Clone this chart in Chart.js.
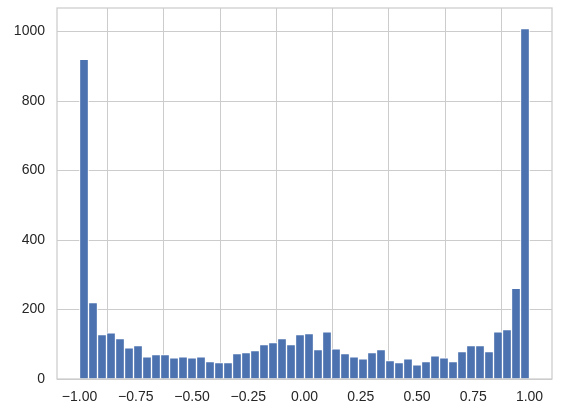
<!DOCTYPE html>
<html>
<head>
<meta charset="utf-8">
<script src="https://cdn.jsdelivr.net/npm/chart.js@4/dist/chart.umd.min.js"></script>
<style>
  html, body { margin: 0; padding: 0; background: #ffffff; }
  #wrap { width: 563px; height: 416px; position: relative; }
</style>
</head>
<body>
<div id="wrap"><canvas id="c" width="563" height="416"></canvas></div>
<script>
// Histogram bin centres (bin width 0.04, from -1 to 1)
const binCenters = [
  -0.98, -0.94, -0.90, -0.86, -0.82, -0.78, -0.74, -0.70, -0.66, -0.62,
  -0.58, -0.54, -0.50, -0.46, -0.42, -0.38, -0.34, -0.30, -0.26, -0.22,
  -0.18, -0.14, -0.10, -0.06, -0.02, 0.02, 0.06, 0.10, 0.14, 0.18,
  0.22, 0.26, 0.30, 0.34, 0.38, 0.42, 0.46, 0.50, 0.54, 0.58,
  0.62, 0.66, 0.70, 0.74, 0.78, 0.82, 0.86, 0.90, 0.94, 0.98
];
// Counts per bin
const counts = [
  920, 220, 128, 133, 116, 90, 96, 64, 70, 70,
  61, 64, 61, 64, 50, 47, 47, 73, 76, 82,
  99, 105, 116, 99, 128, 131, 85, 136, 87, 73,
  64, 58, 76, 85, 53, 47, 58, 41, 50, 67,
  61, 50, 79, 96, 96, 79, 136, 142, 261, 1009
];
const xTicks = [-1.0, -0.75, -0.5, -0.25, 0.0, 0.25, 0.5, 0.75, 1.0];
const yTicks = [0, 200, 400, 600, 800, 1000];

const points = binCenters.map((x, i) => ({ x: x, y: counts[i] }));

const frame = {
  id: 'frame',
  afterDatasetsDraw(chart) {
    const a = chart.chartArea, ctx = chart.ctx;
    ctx.save();
    ctx.strokeStyle = '#cccccc';
    ctx.lineWidth = 1.25;
    ctx.strokeRect(a.left, a.top, a.right - a.left, a.bottom - a.top);
    ctx.restore();
  }
};

new Chart(document.getElementById('c'), {
  type: 'bar',
  data: {
    datasets: [{
      data: points,
      backgroundColor: '#4c72b0',
      borderColor: '#ffffff',
      borderWidth: 1,
      barPercentage: 1.0,
      categoryPercentage: 1.0
    }]
  },
  options: {
    responsive: false,
    animation: false,
    layout: { padding: { top: 8, right: 11, left: 0, bottom: 0 } },
    plugins: { legend: { display: false }, tooltip: { enabled: false } },
    scales: {
      x: {
        type: 'linear',
        min: -1.1, max: 1.1,
        offset: false,
        afterBuildTicks: s => { s.ticks = xTicks.map(v => ({ value: v })); },
        afterFit: s => { s.height = 37; s.paddingLeft = 0; s.paddingRight = 0; },
        grid: { color: '#cccccc', lineWidth: 1, drawTicks: false },
        border: { display: false },
        ticks: {
          padding: 10,
          maxRotation: 0,
          autoSkip: false,
          color: '#262626',
          font: { family: '"Liberation Sans", Arial, sans-serif', size: 14 },
          callback: v => v.toFixed(2).replace('-', '\u2212')
        }
      },
      y: {
        min: 0, max: 1068,
        afterBuildTicks: s => { s.ticks = yTicks.map(v => ({ value: v })); },
        afterFit: s => { s.width = 57; s.paddingTop = 0; s.paddingBottom = 0; },
        grid: { color: '#cccccc', lineWidth: 1, drawTicks: false },
        border: { display: false },
        ticks: {
          padding: 12,
          color: '#262626',
          font: { family: '"Liberation Sans", Arial, sans-serif', size: 14 },
          callback: v => String(v)
        }
      }
    }
  },
  plugins: [frame]
});
</script>
</body>
</html>
